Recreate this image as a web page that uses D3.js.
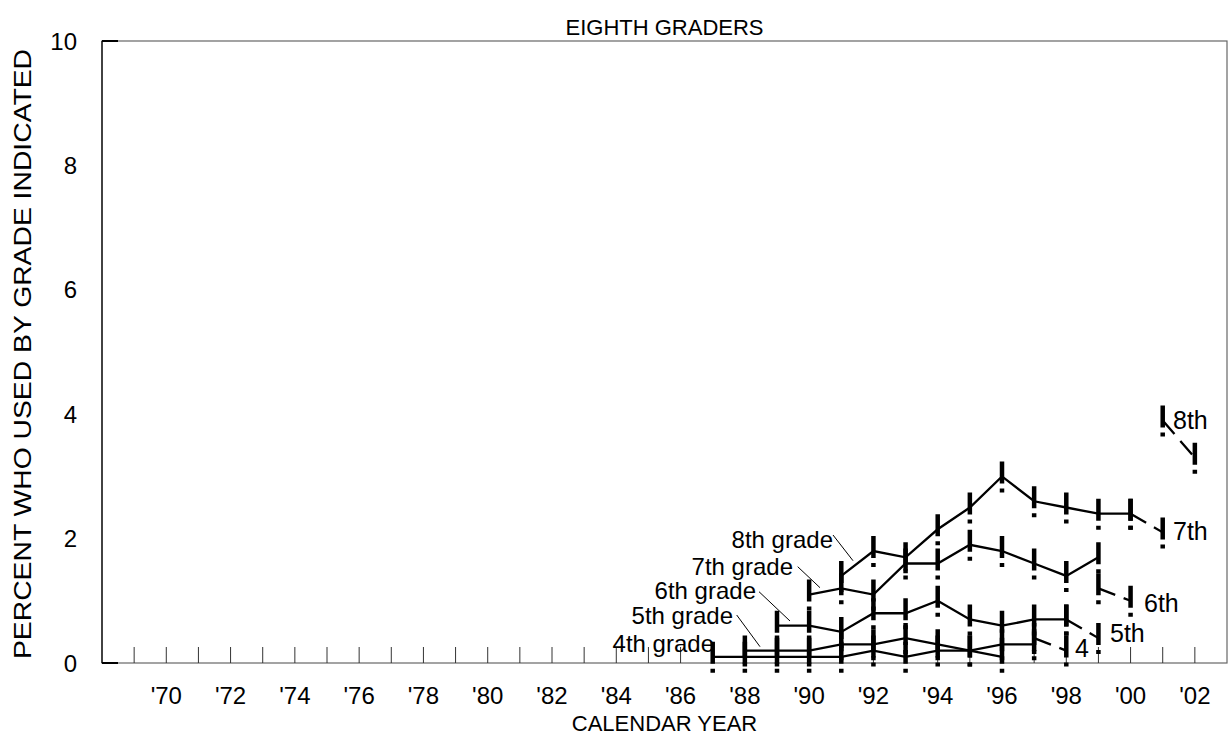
<!DOCTYPE html>
<html><head><meta charset="utf-8">
<script src="https://cdn.jsdelivr.net/npm/d3@7"></script>
<style>
html,body{margin:0;padding:0;background:#fff;}
text{font-family:"Liberation Sans",Arial,sans-serif;fill:#000;}
</style></head>
<body>
<svg id="chart" width="1231" height="744"></svg>
<script>
// ---- data ----
const title = "EIGHTH GRADERS";
const xTitle = "CALENDAR YEAR";
const yTitle = "PERCENT WHO USED BY GRADE INDICATED";
const yTickValues = [0, 2, 4, 6, 8, 10];
const xTickYears = [1970,1972,1974,1976,1978,1980,1982,1984,1986,1988,1990,1992,1994,1996,1998,2000,2002];
const xTickLabels = ["'70","'72","'74","'76","'78","'80","'82","'84","'86","'88","'90","'92","'94","'96","'98","'00","'02"];

// solid grade lines (older surveys)
const grade4Years = [1987,1988,1989,1990,1991,1992,1993,1994,1995,1996];
const grade4Vals  = [0.1,0.1,0.1,0.1,0.1,0.2,0.1,0.2,0.2,0.1];
const grade5Years = [1988,1989,1990,1991,1992,1993,1994,1995,1996,1997];
const grade5Vals  = [0.2,0.2,0.2,0.3,0.3,0.4,0.3,0.2,0.3,0.3];
const grade6Years = [1989,1990,1991,1992,1993,1994,1995,1996,1997,1998];
const grade6Vals  = [0.6,0.6,0.5,0.8,0.8,1.0,0.7,0.6,0.7,0.7];
const grade7Years = [1990,1991,1992,1993,1994,1995,1996,1997,1998,1999];
const grade7Vals  = [1.1,1.2,1.1,1.6,1.6,1.9,1.8,1.6,1.4,1.7];
const grade8Years = [1991,1992,1993,1994,1995,1996,1997,1998,1999,2000];
const grade8Vals  = [1.4,1.8,1.7,2.15,2.5,3.0,2.6,2.5,2.4,2.4];
const solidLabels = ["4th grade","5th grade","6th grade","7th grade","8th grade"];

// dashed grade lines (newer surveys)
const new8Years = [2001,2002], new8Vals = [3.9,3.3];
const new7Years = [2000,2001], new7Vals = [2.4,2.1];
const new6Years = [1999,2000], new6Vals = [1.2,1.0];
const new5Years = [1998,1999], new5Vals = [0.7,0.4];
const new4Years = [1997,1998], new4Vals = [0.4,0.2];
const dashedLabels = ["4","5th","6th","7th","8th"];

// ---- build ----
const svg = d3.select("#chart");
const M = {left:102, right:1227, top:41, bottom:663};
const x = d3.scaleLinear().domain([1968,2003]).range([M.left, M.right]);
const y = d3.scaleLinear().domain([0,10]).range([M.bottom, M.top]);
const FS = 24;

const zip = (ys, vs) => ys.map((yr,i)=>({year:yr, v:vs[i]}));
const solid = [zip(grade4Years,grade4Vals), zip(grade5Years,grade5Vals), zip(grade6Years,grade6Vals), zip(grade7Years,grade7Vals), zip(grade8Years,grade8Vals)];
const dashed = [zip(new4Years,new4Vals), zip(new5Years,new5Vals), zip(new6Years,new6Vals), zip(new7Years,new7Vals), zip(new8Years,new8Vals)];

// frame
svg.append("rect").attr("x",M.left).attr("y",M.top).attr("width",M.right-M.left).attr("height",M.bottom-M.top)
  .attr("fill","none").attr("stroke","#666").attr("stroke-width",1.2);
svg.append("line").attr("x1",M.left).attr("x2",M.left).attr("y1",M.top).attr("y2",M.bottom).attr("stroke","#222").attr("stroke-width",1.5);

// x ticks (every year, inward)
const allYears = d3.range(1969, 2003);
svg.append("g").selectAll("line").data(allYears).join("line")
  .attr("x1",d=>x(d)).attr("x2",d=>x(d)).attr("y1",M.bottom).attr("y2",M.bottom-16)
  .attr("stroke","#333").attr("stroke-width",1);
svg.append("g").selectAll("text").data(xTickYears).join("text")
  .attr("x",d=>x(d)).attr("y",M.bottom+41).attr("text-anchor","middle").attr("font-size",FS)
  .text((d,i)=>xTickLabels[i]);

// y ticks at 0 and 10, labels at all
svg.append("g").selectAll("line").data([0,10]).join("line")
  .attr("x1",M.left).attr("x2",M.left+16).attr("y1",d=>y(d)).attr("y2",d=>y(d))
  .attr("stroke","#000").attr("stroke-width",2);
svg.append("g").selectAll("text").data(yTickValues).join("text")
  .attr("x",M.left-25).attr("y",d=>y(d)+8.5).attr("text-anchor","end").attr("font-size",FS)
  .text(d=>d);

// titles
svg.append("text").attr("x",(M.left+M.right)/2).attr("y",35).attr("text-anchor","middle").attr("font-size",22).text(title);
svg.append("text").attr("x",(M.left+M.right)/2).attr("y",731).attr("text-anchor","middle").attr("font-size",22).text(xTitle);
svg.append("text").attr("transform",`translate(31,${(M.top+M.bottom)/2+2}) rotate(-90)`).attr("text-anchor","middle").attr("font-size",FS)
  .attr("textLength",610).attr("lengthAdjust","spacingAndGlyphs").text(yTitle);

// lines
const line = d3.line().x(d=>x(d.year)).y(d=>y(d.v));
svg.append("g").selectAll("path").data(solid).join("path")
  .attr("d",line).attr("fill","none").attr("stroke","#000").attr("stroke-width",2.3);
svg.append("g").selectAll("path").data(dashed).join("path")
  .attr("d",line).attr("fill","none").attr("stroke","#000").attr("stroke-width",2.3).attr("stroke-dasharray","18,9");

// markers: vertical dash-dot at each point
const pts = solid.flat().concat(dashed.flat());
svg.append("g").selectAll("line").data(pts).join("line")
  .attr("x1",d=>x(d.year)).attr("x2",d=>x(d.year))
  .attr("y1",d=>y(d.v)-15).attr("y2",d=>y(d.v)+16)
  .attr("stroke","#000").attr("stroke-width",4.5).attr("stroke-dasharray","22,5,4,50");

// left labels with leader lines
const LFS = 24;
const leftLab = [
  {t:solidLabels[0], tx:714, ty:652, lead:null},
  {t:solidLabels[1], tx:733, ty:624, lead:[736.7,615,760,646.7]},
  {t:solidLabels[2], tx:756, ty:599, lead:[759,591.7,790,621]},
  {t:solidLabels[3], tx:793, ty:575, lead:[797.7,566.7,820,587.7]},
  {t:solidLabels[4], tx:833, ty:548, lead:[833,535,853,560.7]}
];
const lg = svg.append("g");
leftLab.forEach(d=>{
  lg.append("text").attr("x",d.tx).attr("y",d.ty).attr("text-anchor","end").attr("font-size",LFS).text(d.t);
  if(d.lead) lg.append("line").attr("x1",d.lead[0]).attr("y1",d.lead[1]).attr("x2",d.lead[2]).attr("y2",d.lead[3]).attr("stroke","#000").attr("stroke-width",1);
});

// right labels for dashed lines
const rightLab = [
  {t:dashedLabels[0], tx:1075, ty:657},
  {t:dashedLabels[1], tx:1110, ty:642},
  {t:dashedLabels[2], tx:1144, ty:612},
  {t:dashedLabels[3], tx:1173, ty:540},
  {t:dashedLabels[4], tx:1173, ty:429}
];
svg.append("g").selectAll("text").data(rightLab).join("text")
  .attr("x",d=>d.tx).attr("y",d=>d.ty).attr("font-size",25).text(d=>d.t);
</script>
</body></html>
